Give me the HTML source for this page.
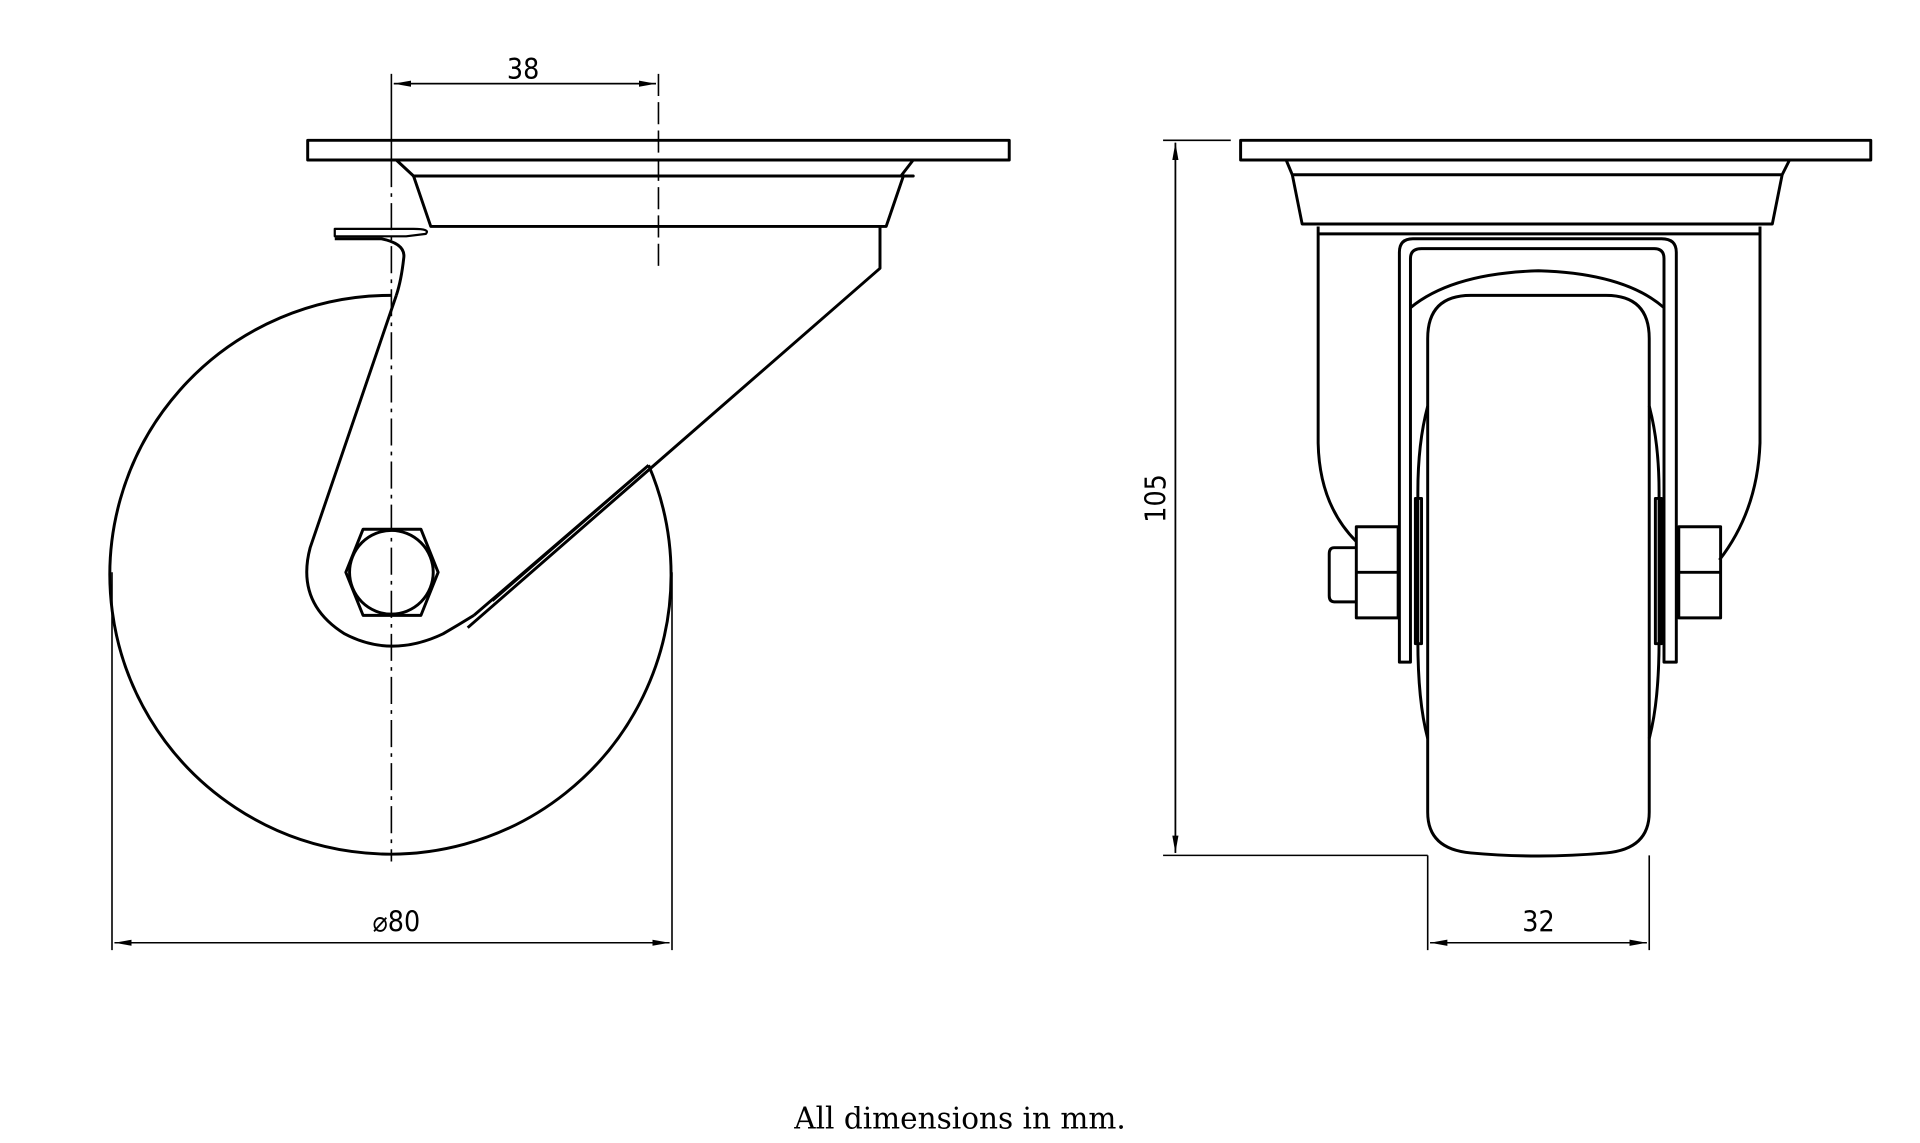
<!DOCTYPE html>
<html><head><meta charset="utf-8"><style>
html,body{margin:0;padding:0;background:#fff;width:1920px;height:1143px;overflow:hidden}
svg{display:block}
text{font-family:"DejaVu Sans Condensed","DejaVu Sans","Liberation Sans",sans-serif;fill:#000}
</style></head><body>
<svg width="1920" height="1143" viewBox="0 0 1560 928.7" preserveAspectRatio="none" xmlns="http://www.w3.org/2000/svg">
<defs><marker id="a" markerWidth="14" markerHeight="6" refX="14" refY="3" orient="auto" markerUnits="userSpaceOnUse"><path d="M0,0.5 L14,3 L0,5.5 Z" fill="#000"/></marker></defs>
<g fill="none" stroke="#000" stroke-width="2.4" stroke-linejoin="round">
<!-- LEFT VIEW -->
<rect x="250" y="114" width="570" height="16"/>
<path d="M322,130 L336,143 L742,143 L732,143 L742,130"/>
<path d="M336,143 L350,184 L720,184 L734,143 Z"/>
<path d="M715,184 L715,218 L380,510"/>
<path d="M322,240 L252,445 Q240,490 280,515 Q318,535 360,515 Q372,508 385,500"/>
<path d="M272,186 L336,186 Q350,186 346,190 L330,192 L272,192 Z" stroke-width="1.8"/>
<path d="M272,194 L310,194 Q330,198 328,210 Q326,228 322,240"/>
<path d="M318,240 A228,227 0 1,0 527,378"/>
<path d="M527,378 L385,500" />
<path d="M520,384 L400,488"/>
<polygon points="295,430 342,430 356,465 342,500 295,500 281,465"/>
<circle cx="318" cy="465" r="34"/>
<!-- RIGHT VIEW -->
<rect x="1008" y="114" width="512" height="16"/>
<path d="M1045,130 L1050,142 L1448,142 L1454,130"/>
<path d="M1050,142 L1058,182 L1440,182 L1448,142"/>
<path d="M1058,182 L1440,182"/>
<path d="M1071,184 L1071,360 Q1072,410 1102,440"/>
<path d="M1430,184 L1430,360 Q1428,415 1397,455"/>
<path d="M1071,190 L1430,190"/>
<path d="M1137,538 L1137,205 Q1137,194 1148,194 L1350,194 Q1362,194 1362,205 L1362,538 L1352,538 L1352,210 Q1352,202 1344,202 L1155,202 Q1146,202 1146,210 L1146,538 Z"/>
<path d="M1146,250 Q1180,222 1250,220 Q1320,222 1352,250"/>
<path d="M1195,240 L1305,240 Q1340,240 1340,275 L1340,660 Q1340,690 1305,693 Q1250,698 1195,693 Q1160,690 1160,660 L1160,275 Q1160,240 1195,240 Z"/>
<path d="M1160,330 Q1152,360 1152,400 L1152,520 Q1152,570 1160,600"/>
<path d="M1340,330 Q1348,360 1348,400 L1348,520 Q1348,570 1340,600"/>
<rect x="1150" y="405" width="5" height="118"/>
<rect x="1345" y="405" width="5" height="118"/>
<path d="M1102,428 L1136,428 L1136,502 L1102,502 Z M1102,465 L1136,465"/>
<path d="M1364,428 L1398,428 L1398,502 L1364,502 Z M1364,465 L1398,465"/>
<path d="M1102,445 L1084,445 Q1080,445 1080,450 L1080,484 Q1080,489 1084,489 L1102,489"/>
</g>
<!-- dimension / center lines -->
<g fill="none" stroke="#000" stroke-width="1.3">
<line x1="318" y1="60" x2="318" y2="130"/>
<line x1="318" y1="130" x2="318" y2="700" stroke-dasharray="22,5,3,5"/>
<line x1="535" y1="60" x2="535" y2="218" stroke-dasharray="18,5"/>
<line x1="320" y1="68" x2="533" y2="68" marker-end="url(#a)"/>
<line x1="533" y1="68" x2="320" y2="68" marker-end="url(#a)"/>
<line x1="91" y1="465" x2="91" y2="772"/>
<line x1="546" y1="465" x2="546" y2="772"/>
<line x1="93" y1="766" x2="544" y2="766" marker-end="url(#a)"/>
<line x1="544" y1="766" x2="93" y2="766" marker-end="url(#a)"/>
<line x1="945" y1="114" x2="1000" y2="114"/>
<line x1="945" y1="695" x2="1160" y2="695"/>
<line x1="955" y1="693" x2="955" y2="116" marker-end="url(#a)"/>
<line x1="955" y1="116" x2="955" y2="693" marker-end="url(#a)"/>
<line x1="1160" y1="695" x2="1160" y2="772"/>
<line x1="1340" y1="695" x2="1340" y2="772"/>
<line x1="1162" y1="766" x2="1338" y2="766" marker-end="url(#a)"/>
<line x1="1338" y1="766" x2="1162" y2="766" marker-end="url(#a)"/>
</g>
<text x="425" y="64" font-size="23" text-anchor="middle">38</text>
<text x="322" y="757" font-size="23" text-anchor="middle">⌀80</text>
<text x="1250" y="757" font-size="23" text-anchor="middle">32</text>
<text x="0" y="0" font-size="23" text-anchor="middle" transform="translate(947,405) rotate(-90)">105</text>
<text x="780" y="917" font-size="24" text-anchor="middle" style="font-family:'DejaVu Serif','Liberation Serif',serif">All dimensions in mm.</text>
</svg>
</body></html>
